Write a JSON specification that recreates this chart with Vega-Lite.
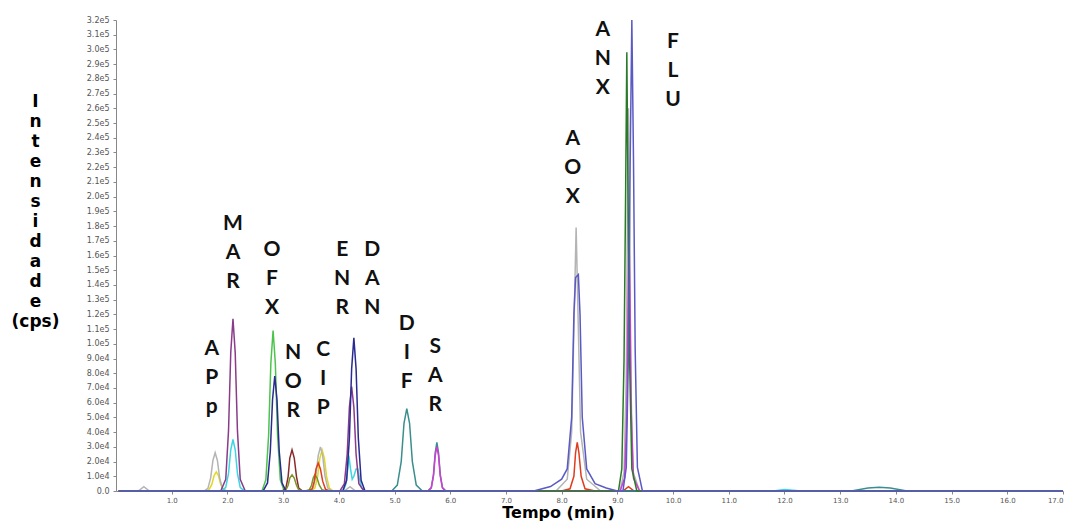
{
  "$schema": "https://vega.github.io/schema/vega-lite/v6.json",
  "width": 947,
  "height": 471,
  "autosize": "none",
  "padding": {"left": 116, "top": 20, "right": 7, "bottom": 30},
  "background": "white",
  "config": {"view": {"stroke": null}, "axis": {"labelOverlap": false}},
  "datasets": {
    "traces": [
      {"s":"yellow","t":0.05,"v":0},{"s":"yellow","t":1.6,"v":0},{"s":"yellow","t":1.67,"v":900},{"s":"yellow","t":1.72,"v":4500},{"s":"yellow","t":1.76,"v":10400},{"s":"yellow","t":1.8,"v":13000},{"s":"yellow","t":1.84,"v":10400},{"s":"yellow","t":1.88,"v":4500},{"s":"yellow","t":1.93,"v":900},{"s":"yellow","t":2.0,"v":0},
      {"s":"yellow","t":3.5,"v":0},{"s":"yellow","t":3.57,"v":2000},{"s":"yellow","t":3.62,"v":9800},{"s":"yellow","t":3.66,"v":22400},{"s":"yellow","t":3.7,"v":28000},{"s":"yellow","t":3.74,"v":22400},{"s":"yellow","t":3.78,"v":9800},{"s":"yellow","t":3.83,"v":2000},{"s":"yellow","t":3.9,"v":0},{"s":"yellow","t":17,"v":0},

      {"s":"gray","t":0.05,"v":0},{"s":"gray","t":0.4,"v":0},{"s":"gray","t":0.5,"v":3000},{"s":"gray","t":0.6,"v":0},
      {"s":"gray","t":1.58,"v":0},{"s":"gray","t":1.65,"v":1800},{"s":"gray","t":1.7,"v":9100},{"s":"gray","t":1.74,"v":20800},{"s":"gray","t":1.78,"v":26000},{"s":"gray","t":1.82,"v":20800},{"s":"gray","t":1.86,"v":9100},{"s":"gray","t":1.91,"v":1800},{"s":"gray","t":1.98,"v":0},
      {"s":"gray","t":3.47,"v":0},{"s":"gray","t":3.54,"v":2100},{"s":"gray","t":3.59,"v":10500},{"s":"gray","t":3.63,"v":24000},{"s":"gray","t":3.67,"v":30000},{"s":"gray","t":3.71,"v":24000},{"s":"gray","t":3.75,"v":10500},{"s":"gray","t":3.8,"v":2100},{"s":"gray","t":3.87,"v":0},
      {"s":"gray","t":4.1,"v":0},{"s":"gray","t":4.2,"v":3000},{"s":"gray","t":4.3,"v":0},
      {"s":"gray","t":7.9,"v":0},{"s":"gray","t":8.1,"v":8000},{"s":"gray","t":8.18,"v":40000},{"s":"gray","t":8.22,"v":110000},{"s":"gray","t":8.26,"v":179000},{"s":"gray","t":8.3,"v":110000},{"s":"gray","t":8.34,"v":40000},{"s":"gray","t":8.45,"v":8000},{"s":"gray","t":8.7,"v":0},
      {"s":"gray","t":9.05,"v":0},{"s":"gray","t":9.12,"v":13000},{"s":"gray","t":9.16,"v":78000},{"s":"gray","t":9.18,"v":180000},{"s":"gray","t":9.2,"v":260000},{"s":"gray","t":9.22,"v":180000},{"s":"gray","t":9.24,"v":78000},{"s":"gray","t":9.28,"v":13000},{"s":"gray","t":9.4,"v":0},{"s":"gray","t":17,"v":0},

      {"s":"cyan","t":0.05,"v":0},{"s":"cyan","t":1.9,"v":0},{"s":"cyan","t":1.97,"v":2500},{"s":"cyan","t":2.02,"v":12000},{"s":"cyan","t":2.06,"v":28000},{"s":"cyan","t":2.1,"v":35000},{"s":"cyan","t":2.14,"v":28000},{"s":"cyan","t":2.18,"v":12000},{"s":"cyan","t":2.23,"v":2500},{"s":"cyan","t":2.3,"v":0},
      {"s":"cyan","t":4.08,"v":0},{"s":"cyan","t":4.13,"v":5000},{"s":"cyan","t":4.16,"v":15000},{"s":"cyan","t":4.18,"v":24000},{"s":"cyan","t":4.21,"v":15000},{"s":"cyan","t":4.24,"v":8000},{"s":"cyan","t":4.27,"v":10000},{"s":"cyan","t":4.31,"v":15000},{"s":"cyan","t":4.34,"v":15000},{"s":"cyan","t":4.37,"v":9000},{"s":"cyan","t":4.41,"v":2000},{"s":"cyan","t":4.48,"v":0},
      {"s":"cyan","t":11.8,"v":0},{"s":"cyan","t":12.0,"v":1000},{"s":"cyan","t":12.3,"v":0},{"s":"cyan","t":17,"v":0},

      {"s":"purple","t":0.05,"v":0},{"s":"purple","t":1.88,"v":0},{"s":"purple","t":1.97,"v":8000},{"s":"purple","t":2.02,"v":41000},{"s":"purple","t":2.06,"v":94000},{"s":"purple","t":2.1,"v":117000},{"s":"purple","t":2.14,"v":94000},{"s":"purple","t":2.18,"v":41000},{"s":"purple","t":2.23,"v":8000},{"s":"purple","t":2.32,"v":0},
      {"s":"purple","t":4.02,"v":0},{"s":"purple","t":4.1,"v":5000},{"s":"purple","t":4.15,"v":25000},{"s":"purple","t":4.19,"v":57000},{"s":"purple","t":4.23,"v":71000},{"s":"purple","t":4.27,"v":57000},{"s":"purple","t":4.31,"v":25000},{"s":"purple","t":4.36,"v":5000},{"s":"purple","t":4.45,"v":0},{"s":"purple","t":17,"v":0},

      {"s":"green","t":0.05,"v":0},{"s":"green","t":2.62,"v":0},{"s":"green","t":2.69,"v":7600},{"s":"green","t":2.74,"v":38000},{"s":"green","t":2.78,"v":87000},{"s":"green","t":2.82,"v":109000},{"s":"green","t":2.86,"v":87000},{"s":"green","t":2.9,"v":38000},{"s":"green","t":2.95,"v":7600},{"s":"green","t":3.02,"v":0},{"s":"green","t":17,"v":0},

      {"s":"brown","t":0.05,"v":0},{"s":"brown","t":2.98,"v":0},{"s":"brown","t":3.05,"v":2000},{"s":"brown","t":3.09,"v":9800},{"s":"brown","t":3.12,"v":22400},{"s":"brown","t":3.16,"v":28000},{"s":"brown","t":3.2,"v":22400},{"s":"brown","t":3.24,"v":9800},{"s":"brown","t":3.28,"v":2000},{"s":"brown","t":3.35,"v":0},{"s":"brown","t":17,"v":0},

      {"s":"olive","t":0.05,"v":0},{"s":"olive","t":2.98,"v":0},{"s":"olive","t":3.05,"v":800},{"s":"olive","t":3.09,"v":3900},{"s":"olive","t":3.12,"v":8800},{"s":"olive","t":3.16,"v":11000},{"s":"olive","t":3.2,"v":8800},{"s":"olive","t":3.24,"v":3900},{"s":"olive","t":3.28,"v":800},{"s":"olive","t":3.35,"v":0},
      {"s":"olive","t":3.4,"v":0},{"s":"olive","t":3.47,"v":800},{"s":"olive","t":3.51,"v":3900},{"s":"olive","t":3.54,"v":8800},{"s":"olive","t":3.57,"v":11000},{"s":"olive","t":3.61,"v":8800},{"s":"olive","t":3.65,"v":3900},{"s":"olive","t":3.7,"v":800},{"s":"olive","t":3.77,"v":0},{"s":"olive","t":17,"v":0},

      {"s":"red","t":0.05,"v":0},{"s":"red","t":3.45,"v":0},{"s":"red","t":3.52,"v":1300},{"s":"red","t":3.56,"v":6700},{"s":"red","t":3.59,"v":15000},{"s":"red","t":3.63,"v":19000},{"s":"red","t":3.67,"v":15000},{"s":"red","t":3.71,"v":6700},{"s":"red","t":3.76,"v":1300},{"s":"red","t":3.83,"v":0},
      {"s":"red","t":8.0,"v":0},{"s":"red","t":8.15,"v":1500},{"s":"red","t":8.22,"v":10000},{"s":"red","t":8.25,"v":26000},{"s":"red","t":8.28,"v":33000},{"s":"red","t":8.31,"v":26000},{"s":"red","t":8.35,"v":10000},{"s":"red","t":8.42,"v":1500},{"s":"red","t":8.6,"v":0},
      {"s":"red","t":9.1,"v":0},{"s":"red","t":9.2,"v":3000},{"s":"red","t":9.3,"v":0},{"s":"red","t":17,"v":0},

      {"s":"navy","t":0.05,"v":0},{"s":"navy","t":2.64,"v":0},{"s":"navy","t":2.72,"v":5500},{"s":"navy","t":2.77,"v":27000},{"s":"navy","t":2.81,"v":62000},{"s":"navy","t":2.85,"v":78000},{"s":"navy","t":2.89,"v":62000},{"s":"navy","t":2.93,"v":27000},{"s":"navy","t":2.98,"v":5500},{"s":"navy","t":3.05,"v":0},
      {"s":"navy","t":4.07,"v":0},{"s":"navy","t":4.14,"v":7300},{"s":"navy","t":4.19,"v":36000},{"s":"navy","t":4.23,"v":83000},{"s":"navy","t":4.27,"v":104000},{"s":"navy","t":4.31,"v":83000},{"s":"navy","t":4.35,"v":36000},{"s":"navy","t":4.4,"v":7300},{"s":"navy","t":4.47,"v":0},{"s":"navy","t":17,"v":0},

      {"s":"teal","t":0.05,"v":0},{"s":"teal","t":4.95,"v":0},{"s":"teal","t":5.05,"v":4000},{"s":"teal","t":5.12,"v":20000},{"s":"teal","t":5.17,"v":46000},{"s":"teal","t":5.22,"v":56000},{"s":"teal","t":5.27,"v":46000},{"s":"teal","t":5.32,"v":20000},{"s":"teal","t":5.39,"v":4000},{"s":"teal","t":5.5,"v":0},
      {"s":"teal","t":5.6,"v":0},{"s":"teal","t":5.66,"v":2300},{"s":"teal","t":5.7,"v":11500},{"s":"teal","t":5.73,"v":26000},{"s":"teal","t":5.76,"v":33000},{"s":"teal","t":5.79,"v":26000},{"s":"teal","t":5.82,"v":11500},{"s":"teal","t":5.86,"v":2300},{"s":"teal","t":5.92,"v":0},
      {"s":"teal","t":13.2,"v":0},{"s":"teal","t":13.5,"v":2000},{"s":"teal","t":13.7,"v":2500},{"s":"teal","t":13.9,"v":2000},{"s":"teal","t":14.2,"v":0},{"s":"teal","t":17,"v":0},

      {"s":"magenta","t":0.05,"v":0},{"s":"magenta","t":5.6,"v":0},{"s":"magenta","t":5.66,"v":2100},{"s":"magenta","t":5.7,"v":10500},{"s":"magenta","t":5.73,"v":24000},{"s":"magenta","t":5.76,"v":30000},{"s":"magenta","t":5.79,"v":24000},{"s":"magenta","t":5.82,"v":10500},{"s":"magenta","t":5.86,"v":2100},{"s":"magenta","t":5.92,"v":0},
      {"s":"magenta","t":9.05,"v":0},{"s":"magenta","t":9.13,"v":8700},{"s":"magenta","t":9.17,"v":52000},{"s":"magenta","t":9.19,"v":122000},{"s":"magenta","t":9.21,"v":175000},{"s":"magenta","t":9.23,"v":122000},{"s":"magenta","t":9.25,"v":52000},{"s":"magenta","t":9.29,"v":8700},{"s":"magenta","t":9.4,"v":0},{"s":"magenta","t":17,"v":0},

      {"s":"darkgreen","t":0.05,"v":0},{"s":"darkgreen","t":9.02,"v":0},{"s":"darkgreen","t":9.08,"v":15000},{"s":"darkgreen","t":9.12,"v":89000},{"s":"darkgreen","t":9.15,"v":209000},{"s":"darkgreen","t":9.17,"v":298000},{"s":"darkgreen","t":9.19,"v":209000},{"s":"darkgreen","t":9.22,"v":89000},{"s":"darkgreen","t":9.26,"v":15000},{"s":"darkgreen","t":9.35,"v":0},{"s":"darkgreen","t":17,"v":0},

      {"s":"blue","t":0.05,"v":0},{"s":"blue","t":7.5,"v":0},{"s":"blue","t":7.8,"v":3000},{"s":"blue","t":8.0,"v":8000},{"s":"blue","t":8.1,"v":15000},{"s":"blue","t":8.18,"v":50000},{"s":"blue","t":8.22,"v":120000},{"s":"blue","t":8.25,"v":145000},{"s":"blue","t":8.3,"v":147000},{"s":"blue","t":8.33,"v":120000},{"s":"blue","t":8.37,"v":50000},{"s":"blue","t":8.45,"v":15000},{"s":"blue","t":8.6,"v":5000},{"s":"blue","t":8.8,"v":2000},{"s":"blue","t":9.0,"v":0},
      {"s":"blue","t":9.1,"v":0},{"s":"blue","t":9.16,"v":16000},{"s":"blue","t":9.2,"v":96000},{"s":"blue","t":9.23,"v":224000},{"s":"blue","t":9.26,"v":320000},{"s":"blue","t":9.29,"v":224000},{"s":"blue","t":9.32,"v":96000},{"s":"blue","t":9.36,"v":16000},{"s":"blue","t":9.45,"v":0},{"s":"blue","t":17,"v":0}
    ],
    "labels": [
      {"lab":"A\nP\np","t":1.72,"v":104000},
      {"lab":"M\nA\nR","t":2.1,"v":189000},
      {"lab":"O\nF\nX","t":2.8,"v":171500},
      {"lab":"N\nO\nR","t":3.18,"v":101500},
      {"lab":"C\nI\nP","t":3.72,"v":103600},
      {"lab":"E\nN\nR","t":4.06,"v":171500},
      {"lab":"D\nA\nN","t":4.6,"v":171500},
      {"lab":"D\nI\nF","t":5.22,"v":120600},
      {"lab":"S\nA\nR","t":5.73,"v":105600},
      {"lab":"A\nO\nX","t":8.2,"v":246300},
      {"lab":"A\nN\nX","t":8.74,"v":320500},
      {"lab":"F\nL\nU","t":10.0,"v":312200}
    ]
  },
  "encoding": {
    "x": {
      "field": "t", "type": "quantitative",
      "scale": {"domain": [0, 17], "nice": false, "zero": false},
      "axis": {
        "values": [1,2,3,4,5,6,7,8,9,10,11,12,13,14,15,16,17],
        "format": ".1f",
        "grid": false,
        "labelOverlap": false,
        "title": "Tempo (min)",
        "titleFont": "DejaVu Sans", "titleFontSize": 16, "titleFontWeight": "bold", "titleColor": "#000",
        "titleX": 442, "titleY": 26, "titleBaseline": "alphabetic", "titleAnchor": null,
        "labelFont": "DejaVu Sans", "labelFontSize": 7, "labelColor": "#555",
        "labelPadding": 2, "tickSize": 3, "tickColor": "#888", "domainColor": "#888"
      }
    },
    "y": {
      "field": "v", "type": "quantitative",
      "scale": {"domain": [0, 320000], "nice": false},
      "axis": {
        "values": [0,10000,20000,30000,40000,50000,60000,70000,80000,90000,100000,110000,120000,130000,140000,150000,160000,170000,180000,190000,200000,210000,220000,230000,240000,250000,260000,270000,280000,290000,300000,310000,320000],
        "labelExpr": "datum.value == 0 ? '0.0' : (datum.value >= 100000 ? format(datum.value/100000, '.1f') + 'e5' : format(datum.value/10000, '.1f') + 'e4')",
        "labelOverlap": false,
        "grid": false,
        "title": ["I","n","t","e","n","s","i","d","a","d","e","(cps)"],
        "titleAngle": 0, "titleAlign": "center", "titleBaseline": "top",
        "titleX": -81, "titleY": 73, "titleLineHeight": 20,
        "titleFont": "DejaVu Sans", "titleFontSize": 17, "titleFontWeight": "bold", "titleColor": "#000",
        "labelFont": "DejaVu Sans", "labelFontSize": 8, "labelColor": "#555",
        "labelPadding": 4, "tickSize": 3, "tickColor": "#888", "domainColor": "#888"
      }
    }
  },
  "layer": [
    {
      "data": {"name": "traces"},
      "mark": {"type": "line", "strokeWidth": 1.5, "interpolate": "linear"},
      "encoding": {
        "color": {
          "field": "s", "type": "nominal", "legend": null,
          "scale": {
            "domain": ["yellow","gray","cyan","purple","green","brown","olive","red","navy","teal","magenta","darkgreen","blue"],
            "range": ["#e2d820","#b4b4b4","#3cd6e2","#8a3c8a","#4cc44c","#8a2a2a","#7a962a","#e03c1e","#2a2a90","#3a8e8e","#d23cd2","#2a7a2a","#5a5ac4"]
          }
        }
      }
    },
    {
      "data": {"name": "labels"},
      "mark": {"type": "text", "font": "Lato", "fontSize": 21, "fontWeight": "bold", "color": "#111", "baseline": "top", "align": "center", "lineBreak": "\n", "lineHeight": 29},
      "encoding": {
        "text": {"field": "lab"}
      }
    }
  ]
}
